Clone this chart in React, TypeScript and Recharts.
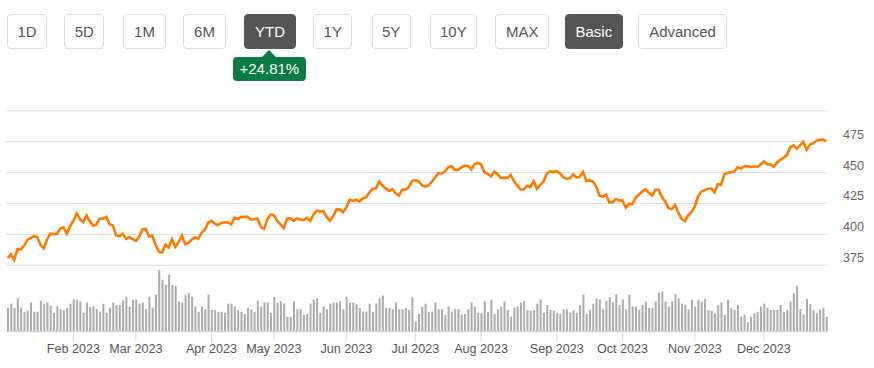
import React from "react";
import { Bar, CartesianGrid, ComposedChart, Line, XAxis, YAxis } from "recharts";

// 2023 trading days, one row per month
const tradingDays: number[][] = [
  [3, 4, 5, 6, 9, 10, 11, 12, 13, 17, 18, 19, 20, 23, 24, 25, 26, 27, 30, 31],
  [1, 2, 3, 6, 7, 8, 9, 10, 13, 14, 15, 16, 17, 21, 22, 23, 24, 27, 28],
  [1, 2, 3, 6, 7, 8, 9, 10, 13, 14, 15, 16, 17, 20, 21, 22, 23, 24, 27, 28, 29, 30, 31],
  [3, 4, 5, 6, 10, 11, 12, 13, 14, 17, 18, 19, 20, 21, 24, 25, 26, 27, 28],
  [1, 2, 3, 4, 5, 8, 9, 10, 11, 12, 15, 16, 17, 18, 19, 22, 23, 24, 25, 26, 30, 31],
  [1, 2, 5, 6, 7, 8, 9, 12, 13, 14, 15, 16, 20, 21, 22, 23, 26, 27, 28, 29, 30],
  [3, 5, 6, 7, 10, 11, 12, 13, 14, 17, 18, 19, 20, 21, 24, 25, 26, 27, 28, 31],
  [1, 2, 3, 4, 7, 8, 9, 10, 11, 14, 15, 16, 17, 18, 21, 22, 23, 24, 25, 28, 29, 30, 31],
  [1, 5, 6, 7, 8, 11, 12, 13, 14, 15, 18, 19, 20, 21, 22, 25, 26, 27, 28, 29],
  [2, 3, 4, 5, 6, 9, 10, 11, 12, 13, 16, 17, 18, 19, 20, 23, 24, 25, 26, 27, 30, 31],
  [1, 2, 3, 6, 7, 8, 9, 10, 13, 14, 15, 16, 17, 20, 21, 22, 24, 27, 28, 29, 30],
  [1, 4, 5, 6, 7, 8, 11, 12, 13, 14, 15, 18, 19, 20, 21, 22, 26, 27, 28, 29],
];

const closeJan = [380.82, 383.76, 379.38, 388.08, 387.86, 390.58, 395.52, 396.96, 398.5, 397.77, 391.49, 388.64, 395.88, 400.63, 400.2, 400.35, 404.75, 405.68, 400.59, 406.48];
const closeFeb = [410.8, 416.78, 412.35, 409.83, 415.19, 410.65, 407.09, 408.04, 412.83, 412.64, 413.98, 408.28, 407.26, 399.09, 398.54, 400.66, 396.38, 397.73, 396.26];
const closeMar = [394.74, 397.81, 404.19, 404.47, 398.27, 398.92, 391.56, 385.91, 385.36, 391.73, 389.28, 396.11, 389.99, 393.74, 398.91, 392.11, 393.17, 395.75, 397.52, 396.49, 401.35, 403.7, 409.39];
const closeApr = [410.95, 408.67, 407.6, 409.19, 409.61, 409.72, 408.05, 413.47, 412.46, 413.94, 414.21, 414.14, 411.88, 412.2, 412.63, 406.08, 404.36, 412.41, 415.93];
const closeMay = [415.51, 410.84, 408.02, 405.13, 412.63, 412.87, 410.93, 412.85, 412.13, 411.59, 413.35, 410.96, 415.82, 419.23, 418.62, 418.79, 414.09, 411.09, 414.65, 420.02, 420.18, 417.85];
const closeJun = [421.82, 427.92, 427.1, 428.03, 426.55, 429.13, 429.9, 433.8, 436.66, 437.18, 442.6, 439.46, 437.18, 435.08, 436.51, 433.21, 431.44, 436.17, 436.39, 438.11, 443.28];
const closeJul = [443.79, 443.13, 439.66, 438.55, 439.66, 442.46, 446.02, 449.56, 449.28, 450.84, 454.19, 455.2, 452.18, 452.18, 454.2, 455.44, 455.51, 452.49, 456.92, 457.79];
const closeAug = [456.48, 450.13, 448.84, 446.81, 450.71, 448.75, 445.75, 445.91, 445.65, 448.11, 442.89, 439.64, 436.29, 436.5, 439.34, 438.15, 443.03, 436.89, 439.97, 442.76, 449.16, 451.01, 450.35];
const closeSep = [451.19, 449.24, 446.22, 444.85, 445.52, 448.45, 445.99, 446.51, 450.36, 443.37, 443.63, 442.71, 438.64, 431.39, 430.42, 432.23, 425.88, 426.05, 428.52, 427.48];
const closeOct = [427.31, 421.59, 424.66, 424.5, 429.54, 432.29, 434.54, 436.32, 433.66, 431.5, 436.04, 436.02, 430.21, 426.43, 421.19, 420.46, 423.63, 417.55, 412.55, 410.68, 415.59, 418.2];
const closeNov = [422.66, 430.76, 434.69, 435.69, 436.93, 437.25, 433.84, 440.61, 440.19, 448.73, 449.68, 450.23, 450.79, 454.26, 453.27, 455.02, 455.3, 454.48, 454.93, 454.61, 456.4];
const closeDec = [459.1, 456.69, 456.6, 454.76, 458.23, 460.2, 461.99, 464.1, 470.5, 472.01, 469.33, 471.97, 474.84, 468.26, 472.7, 473.65, 475.65, 476.51, 476.69, 475.31];

// volume, millions of shares
const volumeJan = [60, 71, 60, 85, 60, 51, 54, 74, 51, 51, 79, 71, 74, 66, 48, 66, 57, 54, 60, 71];
const volumeFeb = [82, 82, 77, 48, 74, 62, 65, 58, 51, 71, 48, 61, 74, 68, 68, 79, 89, 64, 81];
const volumeMar = [81, 72, 74, 58, 89, 61, 94, 157, 132, 119, 145, 119, 116, 77, 74, 94, 99, 89, 64, 51, 64, 57, 94];
const volumeApr = [55, 55, 51, 51, 48, 71, 71, 64, 55, 51, 45, 60, 57, 51, 79, 64, 74, 74, 48];
const volumeMay = [88, 74, 77, 72, 38, 38, 77, 57, 57, 43, 45, 72, 81, 85, 48, 64, 57, 71, 74, 74, 77, 57];
const volumeJun = [89, 74, 74, 70, 60, 51, 51, 71, 51, 72, 85, 92, 60, 60, 57, 74, 57, 57, 60, 55, 88];
const volumeJul = [26, 45, 64, 71, 51, 51, 74, 57, 57, 43, 64, 51, 57, 57, 43, 45, 57, 74, 64, 48];
const volumeAug = [47, 77, 51, 82, 45, 57, 64, 77, 55, 38, 60, 64, 74, 79, 55, 53, 55, 71, 82, 48, 68, 55, 54];
const volumeSep = [48, 45, 57, 57, 48, 54, 48, 68, 94, 45, 55, 71, 85, 82, 57, 79, 88, 74, 95, 68];
const volumeOct = [82, 57, 94, 64, 64, 55, 68, 77, 60, 60, 77, 99, 102, 77, 64, 77, 95, 85, 72, 68, 57, 81];
const volumeNov = [64, 81, 77, 83, 55, 53, 47, 68, 74, 43, 81, 61, 55, 68, 38, 44, 24, 38, 47, 51, 64];
const volumeDec = [72, 61, 55, 55, 55, 68, 51, 55, 77, 98, 117, 58, 44, 83, 70, 55, 47, 55, 61, 38];

const monthNames = ["Jan", "Feb", "Mar", "Apr", "May", "Jun", "Jul", "Aug", "Sep", "Oct", "Nov", "Dec"];
const priceTicks = [375, 400, 425, 450, 475, 500];
const ytdChange = "+24.81%";

const closes = [closeJan, closeFeb, closeMar, closeApr, closeMay, closeJun, closeJul, closeAug, closeSep, closeOct, closeNov, closeDec];
const volumes = [volumeJan, volumeFeb, volumeMar, volumeApr, volumeMay, volumeJun, volumeJul, volumeAug, volumeSep, volumeOct, volumeNov, volumeDec];

const pad = (n: number) => String(n).padStart(2, "0");

const data = tradingDays.flatMap((days, m) =>
  days.map((d, i) => ({
    date: `2023-${pad(m + 1)}-${pad(d)}`,
    close: closes[m][i],
    volume: volumes[m][i],
  }))
);

// first trading day of each month from Feb
const monthTicks = tradingDays.slice(1).map((days, i) => `2023-${pad(i + 2)}-${pad(days[0])}`);

const buttons = [
  { label: "1D", left: 7, width: 40 },
  { label: "5D", left: 64.3, width: 40 },
  { label: "1M", left: 123.3, width: 42.4 },
  { label: "6M", left: 183.3, width: 42.4 },
  { label: "YTD", left: 244.3, width: 51.4, active: true },
  { label: "1Y", left: 313.3, width: 39 },
  { label: "5Y", left: 371.7, width: 39 },
  { label: "10Y", left: 430, width: 46.7 },
  { label: "MAX", left: 495.3, width: 54 },
  { label: "Basic", left: 565, width: 57.7, active: true },
  { label: "Advanced", left: 638.3, width: 88.4 },
];

const FONT = "'Liberation Sans', Arial, Helvetica, sans-serif";

function formatMonth(value: string) {
  const [y, m] = value.split("-");
  return `${monthNames[Number(m) - 1]} ${y}`;
}

function PriceTick(props: any) {
  const { x, y, payload } = props;
  if (payload.value === 500) return <g />;
  return (
    <text x={x} y={y - 3} fill="#666" fontSize={12.6} fontFamily={FONT} textAnchor="start">
      {payload.value}
    </text>
  );
}

function DateTick(props: any) {
  const { x, y, payload } = props;
  return (
    <text x={x} y={y + 11} fill="#555" fontSize={12.6} fontFamily={FONT} textAnchor="middle">
      {formatMonth(payload.value)}
    </text>
  );
}

export default function App() {
  return (
    <div style={{ position: "absolute", left: 0, top: 0, width: 874, height: 368, background: "#fff", fontFamily: FONT }}>
      {buttons.map((b) => (
        <div
          key={b.label}
          style={{
            position: "absolute",
            left: b.left,
            top: 14.3,
            width: b.width,
            height: 34.4,
            boxSizing: "border-box",
            border: `1px solid ${b.active ? "#555" : "#dcdcdc"}`,
            borderRadius: 4,
            background: b.active ? "#555" : "#fff",
            color: b.active ? "#fff" : "#555",
            fontSize: 15,
            lineHeight: "33.4px",
            textAlign: "center",
          }}
        >
          {b.label}
        </div>
      ))}

      <div
        style={{
          position: "absolute",
          left: 262.3,
          top: 50,
          width: 0,
          height: 0,
          borderLeft: "7px solid transparent",
          borderRight: "7px solid transparent",
          borderBottom: "7.5px solid #0b7a45",
        }}
      />
      <div
        style={{
          position: "absolute",
          left: 232.7,
          top: 57.3,
          width: 73.3,
          height: 23.7,
          borderRadius: 4,
          background: "#0b7a45",
          color: "#fff",
          fontSize: 15,
          lineHeight: "23.7px",
          textAlign: "center",
        }}
      >
        {ytdChange}
      </div>

      <div style={{ position: "absolute", left: 0, top: 0 }}>
        <ComposedChart
          width={874}
          height={368}
          data={data}
          margin={{ top: 110.7, right: 0, bottom: 6.3, left: 6 }}
        >
          <CartesianGrid yAxisId="price" vertical={false} stroke="#e0e0e0" />
          <XAxis
            dataKey="date"
            ticks={monthTicks}
            interval={0}
            height={30}
            tickSize={10}
            tickMargin={0}
            axisLine={{ stroke: "#d8d8d8" }}
            tickLine={{ stroke: "#d8d8d8" }}
            tick={DateTick}
          />
          <YAxis
            yAxisId="price"
            orientation="right"
            width={46}
            domain={[321.3, 500]}
            ticks={priceTicks}
            allowDataOverflow
            axisLine={false}
            tickLine={false}
            tickSize={15}
            tickMargin={0}
            tick={PriceTick}
          />
          <YAxis yAxisId="vol" hide domain={[0, 562]} allowDataOverflow />
          <Bar yAxisId="vol" dataKey="volume" fill="#aaaaaa" barSize={2} isAnimationActive={false} />
          <Line
            yAxisId="price"
            type="linear"
            dataKey="close"
            stroke="#ff7a00"
            strokeWidth={2.6}
            dot={false}
            activeDot={false}
            isAnimationActive={false}
          />
        </ComposedChart>
      </div>
    </div>
  );
}
